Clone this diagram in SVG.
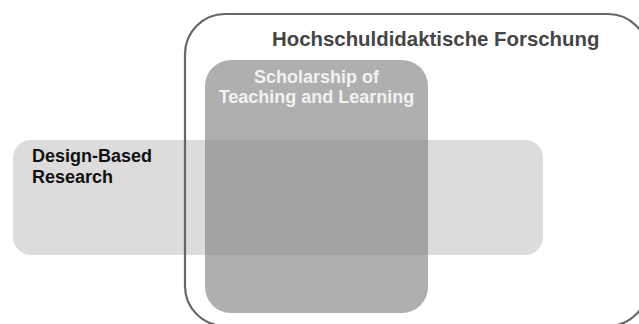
<svg xmlns="http://www.w3.org/2000/svg" width="639" height="324" viewBox="0 0 639 324">
  <style>
    .lbl { font-family: "Liberation Sans", Arial, sans-serif; font-weight: bold; }
    .frame { fill: none; stroke: #676767; stroke-width: 2.2; }
    .dbr { fill: #dddbdc; }
    .sotl { fill: #878585; fill-opacity: 0.66; }
  </style>
  <rect width="639" height="324" fill="#ffffff"/>

  <!-- Design-Based Research band -->
  <g id="design-based-research">
    <rect class="dbr" x="13" y="140" width="530" height="115" rx="18" ry="18"/>
    <text class="lbl" x="32" y="162" font-size="18" fill="#111111">Design-Based</text>
    <text class="lbl" x="32" y="183" font-size="18" fill="#111111">Research</text>
  </g>

  <!-- Scholarship of Teaching and Learning column -->
  <g id="sotl">
    <rect class="sotl" x="205" y="60" width="223" height="253" rx="26" ry="26"/>
    <text class="lbl" x="316.5" y="83" font-size="18" fill="#f2f2f2" text-anchor="middle">Scholarship of</text>
    <text class="lbl" x="316.5" y="103" font-size="18" fill="#f2f2f2" text-anchor="middle">Teaching and Learning</text>
  </g>

  <!-- Hochschuldidaktische Forschung frame -->
  <g id="hochschuldidaktische-forschung">
    <rect class="frame" x="185" y="14" width="463" height="312" rx="40" ry="40"/>
    <text class="lbl" x="272" y="46" font-size="20.4" fill="#454545">Hochschuldidaktische Forschung</text>
  </g>

  <g id="connectors"/>
</svg>
